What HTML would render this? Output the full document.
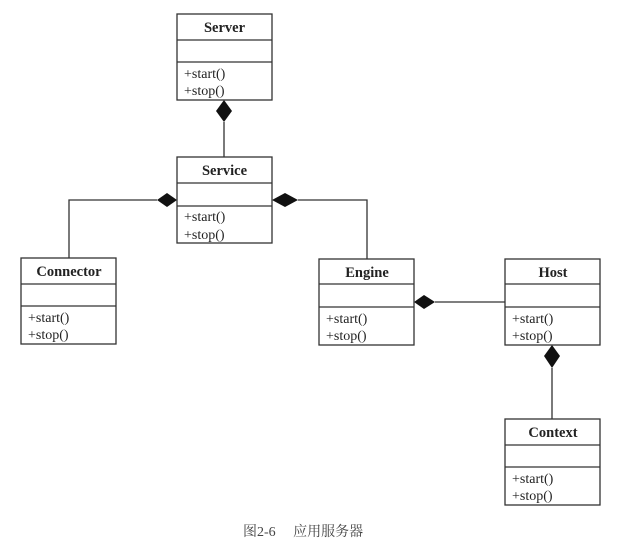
<!DOCTYPE html>
<html><head><meta charset="utf-8"><style>
html,body{margin:0;padding:0;background:#fff;}
svg{display:block;}
text{font-family:"Liberation Serif","Noto Serif CJK SC",serif;fill:#222;}
.t{font-weight:bold;font-size:14.5px;}
.m{font-size:14px;}
</style></head><body>
<svg width="629" height="555" viewBox="0 0 629 555" xmlns="http://www.w3.org/2000/svg">
<g stroke="#333" stroke-width="1.3" fill="none">
<line x1="224" y1="122" x2="224" y2="157"/>
<polyline points="157,200 69,200 69,258"/>
<polyline points="298,200 367,200 367,259"/>
<line x1="435" y1="302" x2="505" y2="302"/>
<line x1="552" y1="368" x2="552" y2="419"/>
</g>
<g fill="#111">
<polygon points="224,100 232,111 224,122 216,111"/>
<polygon points="177,200 167,207 157,200 167,193"/>
<polygon points="272,200 285,193 298,200 285,207"/>
<polygon points="414,302 424,295 435,302 424,309"/>
<polygon points="552,345 560,356 552,368 544,356"/>
</g>
<g stroke="#333" stroke-width="1.3" fill="#fff">
<rect x="177" y="14" width="95" height="86"/><line x1="177" y1="40" x2="272" y2="40"/><line x1="177" y1="62" x2="272" y2="62"/>
<rect x="177" y="157" width="95" height="86"/><line x1="177" y1="183" x2="272" y2="183"/><line x1="177" y1="206" x2="272" y2="206"/>
<rect x="21" y="258" width="95" height="86"/><line x1="21" y1="284" x2="116" y2="284"/><line x1="21" y1="306" x2="116" y2="306"/>
<rect x="319" y="259" width="95" height="86"/><line x1="319" y1="284" x2="414" y2="284"/><line x1="319" y1="307" x2="414" y2="307"/>
<rect x="505" y="259" width="95" height="86"/><line x1="505" y1="284" x2="600" y2="284"/><line x1="505" y1="307" x2="600" y2="307"/>
<rect x="505" y="419" width="95" height="86"/><line x1="505" y1="445" x2="600" y2="445"/><line x1="505" y1="467" x2="600" y2="467"/>
</g>
<text class="t" x="224.5" y="32" text-anchor="middle">Server</text>
<text class="m" x="184" y="78">+start()</text><text class="m" x="184" y="95">+stop()</text>
<text class="t" x="224.5" y="175" text-anchor="middle">Service</text>
<text class="m" x="184" y="221">+start()</text><text class="m" x="184" y="239">+stop()</text>
<text class="t" x="69" y="276" text-anchor="middle">Connector</text>
<text class="m" x="28" y="322">+start()</text><text class="m" x="28" y="339">+stop()</text>
<text class="t" x="367" y="277" text-anchor="middle">Engine</text>
<text class="m" x="326" y="323">+start()</text><text class="m" x="326" y="340">+stop()</text>
<text class="t" x="553" y="277" text-anchor="middle">Host</text>
<text class="m" x="512" y="323">+start()</text><text class="m" x="512" y="340">+stop()</text>
<text class="t" x="553" y="437" text-anchor="middle">Context</text>
<text class="m" x="512" y="483">+start()</text><text class="m" x="512" y="500">+stop()</text>
<text x="243" y="536" style="font-size:14px;fill:#444">图2-6　 应用服务器</text>
</svg>
</body></html>
